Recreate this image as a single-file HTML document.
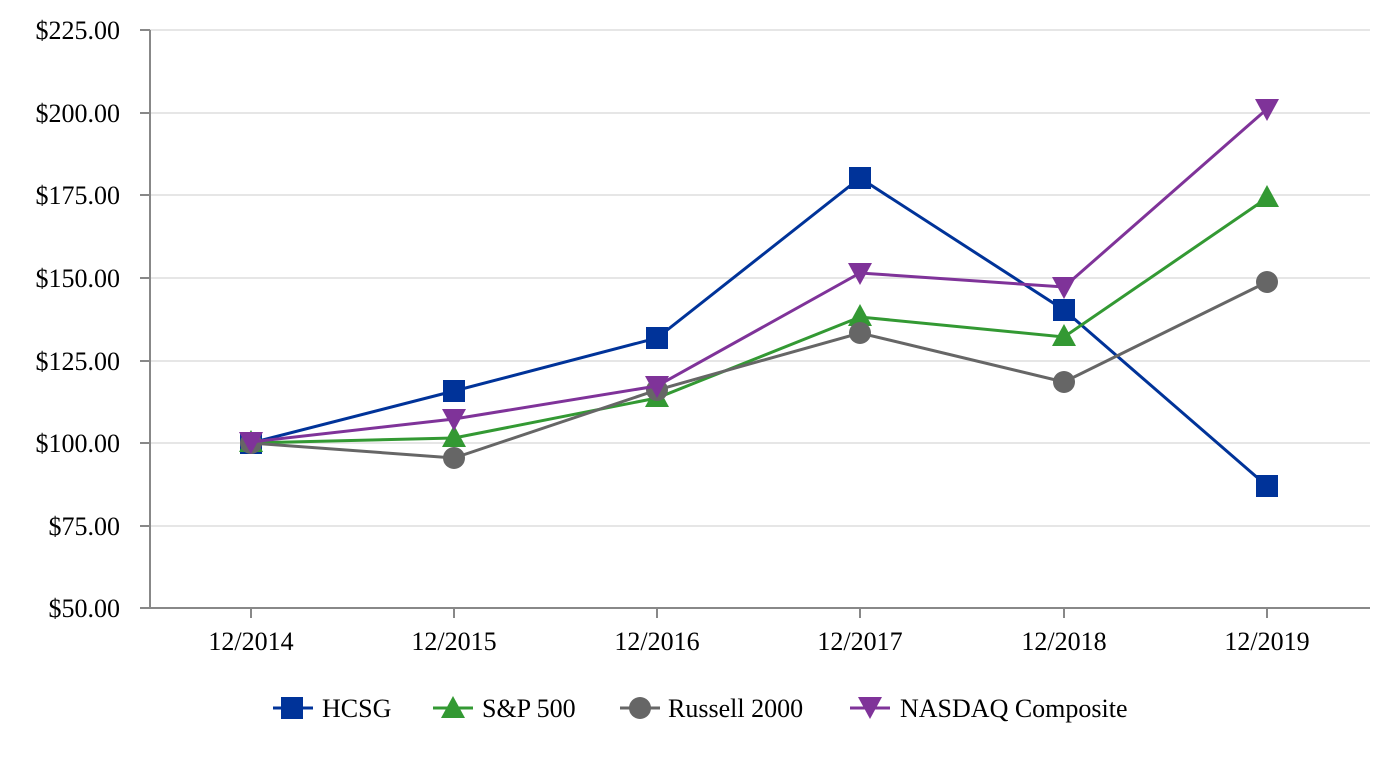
<!DOCTYPE html>
<html><head><style>
html,body{margin:0;padding:0;background:#fff;}
svg text{font-family:"Liberation Serif",serif;font-size:26px;fill:#000;}
</style></head><body>
<svg width="1400" height="760" viewBox="0 0 1400 760" xmlns="http://www.w3.org/2000/svg">
<g stroke="#e6e6e6" stroke-width="2">
<line x1="150" x2="1370" y1="30" y2="30"/>
<line x1="150" x2="1370" y1="113" y2="113"/>
<line x1="150" x2="1370" y1="195" y2="195"/>
<line x1="150" x2="1370" y1="278" y2="278"/>
<line x1="150" x2="1370" y1="361" y2="361"/>
<line x1="150" x2="1370" y1="443" y2="443"/>
<line x1="150" x2="1370" y1="526" y2="526"/>
</g>
<g stroke="#888" stroke-width="2">
<line x1="150" x2="150" y1="30" y2="609"/>
<line x1="149" x2="1370" y1="608" y2="608"/>
<line x1="140" x2="150" y1="30" y2="30"/><line x1="140" x2="150" y1="113" y2="113"/>
<line x1="140" x2="150" y1="195" y2="195"/><line x1="140" x2="150" y1="278" y2="278"/>
<line x1="140" x2="150" y1="361" y2="361"/><line x1="140" x2="150" y1="443" y2="443"/>
<line x1="140" x2="150" y1="526" y2="526"/><line x1="140" x2="150" y1="608" y2="608"/>
<line x1="251" x2="251" y1="608" y2="618"/><line x1="454" x2="454" y1="608" y2="618"/>
<line x1="657" x2="657" y1="608" y2="618"/><line x1="860" x2="860" y1="608" y2="618"/>
<line x1="1064" x2="1064" y1="608" y2="618"/><line x1="1267" x2="1267" y1="608" y2="618"/>
</g>
<g text-anchor="end">
<text x="120" y="39">$225.00</text><text x="120" y="122">$200.00</text>
<text x="120" y="204">$175.00</text><text x="120" y="287">$150.00</text>
<text x="120" y="370">$125.00</text><text x="120" y="452">$100.00</text>
<text x="120" y="535">$75.00</text><text x="120" y="617">$50.00</text>
</g>
<g text-anchor="middle">
<text x="251" y="650">12/2014</text><text x="454" y="650">12/2015</text>
<text x="657" y="650">12/2016</text><text x="860" y="650">12/2017</text>
<text x="1064" y="650">12/2018</text><text x="1267" y="650">12/2019</text>
</g>
<polyline fill="none" stroke="#003399" stroke-width="3" points="251,443 454,391 657,338 860,178 1064,310 1267,486"/>
<g fill="#003399">
<rect x="240" y="432" width="22" height="22"/><rect x="443" y="380" width="22" height="22"/>
<rect x="646" y="327" width="22" height="22"/><rect x="849" y="167" width="22" height="22"/>
<rect x="1053" y="299" width="22" height="22"/><rect x="1256" y="475" width="22" height="22"/>
</g>
<polyline fill="none" stroke="#339933" stroke-width="3" points="251,443 454,438 657,398 860,317 1064,337 1267,198"/>
<g fill="#339933">
<polygon points="251,430 263,452 239,452"/><polygon points="454,425 466,447 442,447"/>
<polygon points="657,385 669,407 645,407"/><polygon points="860,304 872,326 848,326"/>
<polygon points="1064,324 1076,346 1052,346"/><polygon points="1267,185 1279,207 1255,207"/>
</g>
<polyline fill="none" stroke="#666666" stroke-width="3" points="251,443 454,458 657,390 860,333 1064,382 1267,282"/>
<g fill="#666666">
<circle cx="251" cy="443" r="11"/><circle cx="454" cy="458" r="11"/><circle cx="657" cy="390" r="11"/>
<circle cx="860" cy="333" r="11"/><circle cx="1064" cy="382" r="11"/><circle cx="1267" cy="282" r="11"/>
</g>
<polyline fill="none" stroke="#7f3399" stroke-width="3" points="251,442 454,419 657,386 860,273 1064,287 1267,109"/>
<g fill="#7f3399">
<polygon points="239,432 263,432 251,454"/><polygon points="442,409 466,409 454,431"/>
<polygon points="645,376 669,376 657,398"/><polygon points="848,263 872,263 860,285"/>
<polygon points="1052,277 1076,277 1064,299"/><polygon points="1255,99 1279,99 1267,121"/>
</g>
<line x1="273" x2="313" y1="708" y2="708" stroke="#003399" stroke-width="3"/>
<rect x="281" y="697" width="22" height="22" fill="#003399"/>
<text x="322" y="717">HCSG</text>
<line x1="433" x2="473" y1="708" y2="708" stroke="#339933" stroke-width="3"/>
<polygon points="453,696 465,718 441,718" fill="#339933"/>
<text x="482" y="717">S&amp;P 500</text>
<line x1="620" x2="660" y1="708" y2="708" stroke="#666666" stroke-width="3"/>
<circle cx="640" cy="708" r="11" fill="#666666"/>
<text x="668" y="717">Russell 2000</text>
<line x1="850" x2="890" y1="708" y2="708" stroke="#7f3399" stroke-width="3"/>
<polygon points="858,697 882,697 870,719" fill="#7f3399"/>
<text x="900" y="717">NASDAQ Composite</text>
</svg>
</body></html>
